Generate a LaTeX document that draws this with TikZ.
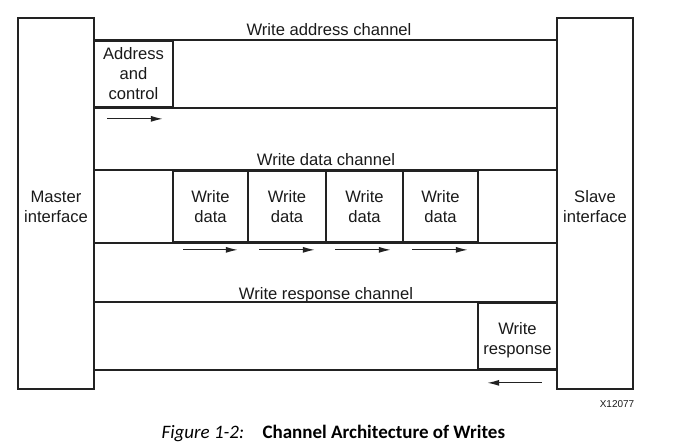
\documentclass[tikz,border=0pt]{standalone}
\usepackage{fontspec}
\setmainfont{Liberation Sans}
\newfontfamily\capfont{Carlito}
\usetikzlibrary{arrows.meta}

\definecolor{linegray}{HTML}{222222}
\definecolor{textgray}{HTML}{1A1A1A}

\begin{document}
\begin{tikzpicture}[x=1pt, y=-1pt]
	\tikzstyle{port} = [ draw=linegray, line width=1.7pt, minimum width=76pt, minimum height=371pt, inner sep=0pt ];
	\tikzstyle{cell} = [ draw=linegray, line width=1.7pt, inner sep=0pt, align=center, text=textgray, font={\fontsize{16.6}{20}\selectfont} ];
	\tikzstyle{info} = [ inner sep=0pt, align=center, text=textgray, font={\fontsize{16.6}{20}\selectfont} ];
	\tikzstyle{title} = [ anchor=base, text=textgray, font={\fontsize{16.6}{20}\selectfont} ];
	\tikzstyle{wire} = [ draw=linegray, line width=1.7pt ];
	\tikzstyle{flow} = [ -{Latex[length=12pt, width=6pt]}, draw=linegray, line width=1.2pt ];

	\useasboundingbox (0,0) rectangle (674,446);

	\node[port] (master) at (56,203.5) {};
	\node[port] (slave) at (595,203.5) {};
	\node[info] (mastertxt) at ([yshift=-3pt]master.center) {Master\\interface};
	\node[info] (slavetxt) at ([yshift=-3pt]slave.center) {Slave\\interface};

	% write address channel
	\node[cell, minimum width=79pt, minimum height=66pt] (addr) at (133.5,74) {Address\\and\\control};
	\node[title] (addrch) at (329,36) {Write address channel};
	\draw[wire] (master.east |- addr.north) -- (slave.west |- addr.north);
	\draw[wire] (master.east |- addr.south) -- (slave.west |- addr.south);
	\coordinate (a0) at ([shift={(14,11)}]addr.south west);
	\coordinate (a1) at ([shift={(-11,11)}]addr.south east);
	\draw[flow] (a0) -- (a1);

	% write data channel
	\node[title] (datach) at (326,166) {Write data channel};
	\foreach \xl/\xr/\ls/\rs [count=\i] in {173/248/11/11,248/326/12/12,326/403/10/13,403/478/10/11} {
		\node[cell, minimum width={(\xr-\xl)*1pt}, minimum height=71pt] (wd\i) at ({(\xl+\xr)/2},206.5) {Write\\data};
		\coordinate (d\i s) at ([shift={(\ls,7)}]wd\i.south west);
		\coordinate (d\i e) at ([shift={(-\rs,7)}]wd\i.south east);
		\draw[flow] (d\i s) -- (d\i e);
	}
	\draw[wire] (master.east |- wd1.north) -- (slave.west |- wd1.north);
	\draw[wire] (master.east |- wd1.south) -- (slave.west |- wd1.south);

	% write response channel
	\node[title] (respch) at (326,299) {Write response channel};
	\node[cell, minimum width=79pt, minimum height=66pt] (resp) at (517.5,336) {};
	\node[info] (resptxt) at ([yshift=-4pt]resp.center) {Write\\response};
	\draw[wire] (master.east |- resp.north) -- (slave.west |- resp.north);
	\draw[wire] (master.east |- resp.south) -- (slave.west |- resp.south);
	\coordinate (r0) at ([shift={(-16,13)}]resp.south east);
	\coordinate (r1) at ([shift={(10,13)}]resp.south west);
	\draw[flow] (r0) -- (r1);

	\node[text=textgray, font={\fontsize{10}{12}\selectfont}] (xid) at (617,404) {X12077};

	\node[anchor=base west, font={\capfont\fontsize{19}{22}\selectfont\itshape}] (fignum) at (158,438) {Figure 1-2:};
	\node[anchor=base west, font={\capfont\fontsize{19}{22}\selectfont\bfseries}] (figcap) at (259,438) {Channel Architecture of Writes};
\end{tikzpicture}
\end{document}
